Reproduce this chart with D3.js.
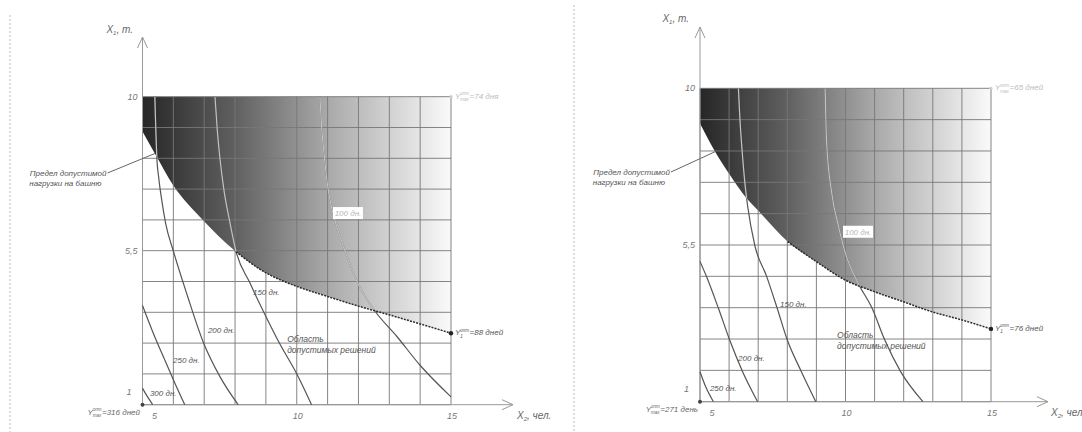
<!DOCTYPE html>
<html>
<head>
<meta charset="utf-8">
<script src="https://cdn.jsdelivr.net/npm/d3@7"></script>
<style>
    body { margin: 0; background: #fff; }
    svg { display: block; font-family: "Liberation Sans", Arial, sans-serif; font-style: italic; }
</style>
</head>
<body>
<div id="chart"></div>
<script>
// tick values / labels
var xTicks = [5, 10, 15];
var yTicks = [1, 5.5, 10];
var yTickLabels = ["1", "5,5", "10"];
var isoNames = ["300 дн.", "250 дн.", "200 дн.", "150 дн.", "100 дн."];

// left panel: load limit (X2, X1) and day isolines
var leftLimit = [[5, 8.98], [5.4, 8.34], [5.99, 7.42], [6.91, 6.44], [8.03, 5.47], [8.91, 4.9],
    [9.99, 4.46], [10.97, 4.17], [12, 3.88], [13.02, 3.62], [14, 3.36], [15, 3.09]];
var left300 = [[5, 1.48], [5.15, 1.25], [5.33, 1]];
var left250 = [[5, 3.9], [5.35, 3.09], [5.72, 2.31], [6.05, 1.63], [6.37, 1]];
var left200 = [[5.4, 10], [5.43, 9.07], [5.46, 8.3], [5.53, 7.6], [5.62, 7], [5.75, 6.3], [6, 5.49],
    [6.45, 4.2], [6.99, 2.78], [7.51, 1.82], [8.1, 1]];
var left150 = [[7.35, 10], [7.42, 9.07], [7.51, 8.2], [7.64, 7.27], [7.83, 6.34], [8.02, 5.52],
    [8.48, 4.56], [9, 3.58], [9.45, 2.78], [9.99, 1.92], [10.48, 1]];
var left100 = [[10.75, 10], [10.81, 9.07], [10.9, 8.2], [11, 7.4], [11.12, 6.8], [11.3, 6.2],
    [11.51, 5.63], [12, 4.51], [12.54, 3.73], [13.24, 3], [13.99, 2.16], [15, 1.23]];
var leftValues = ["74 дня", "88 дней", "316 дней"];

// right panel
var rightLimit = [[5, 8.99], [5.52, 8.18], [6.03, 7.51], [6.6, 6.84], [7.03, 6.46], [8.01, 5.6],
    [9, 5.02], [10, 4.49], [10.99, 4.16], [11.99, 3.87], [12.98, 3.58], [13.99, 3.35], [15, 3.09]];
var right250 = [[5, 1.86], [5.2, 1.42], [5.46, 1]];
var right200 = [[5, 5.03], [5.22, 4.6], [5.63, 3.69], [6.02, 2.77], [6.46, 1.87], [6.98, 1]];
var right150 = [[6.32, 10], [6.37, 9.14], [6.45, 8.18], [6.55, 7.22], [6.64, 6.6], [6.88, 5.5],
    [7.29, 4.6], [7.65, 3.69], [8, 2.77], [8.48, 1.87], [8.98, 1]];
var right100 = [[9.3, 10], [9.35, 8.47], [9.52, 7.03], [9.75, 6.07], [10.02, 5.2], [10.43, 4.41],
    [10.91, 3.69], [11.35, 2.77], [11.89, 1.87], [12.66, 1]];
var rightValues = ["65 дней", "76 дней", "271 день"];

var width = 1082;
var height = 432;

var svg = d3.select("#chart")
    .append("svg")
    .attr("width", width)
    .attr("height", height);

var defs = svg.append("defs");

// panel separators
svg.append("line")
    .attr("x1", 10).attr("x2", 10).attr("y1", 15).attr("y2", height)
    .attr("stroke", "#bbb").attr("stroke-dasharray", "2,2");
svg.append("line")
    .attr("x1", 574).attr("x2", 574).attr("y1", 5).attr("y2", height)
    .attr("stroke", "#bbb").attr("stroke-dasharray", "2,2");

drawPanel({
    id: "l",
    xRange: [142.5, 451], yRange: [404.7, 96.7],
    arrowTop: 37, arrowRight: 513,
    limit: leftLimit,
    curves: [left300, left250, left200, left150, left100],
    names: isoNames,
    labelPos: [[5.24, 1.25], [5.99, 2.22], [7.12, 3.1], [8.58, 4.21], [11.66, 6.6]],
    areaPos: [9.69, 2.83],
    values: leftValues,
    limitText: [-36, 176],
    limitPoint: [5.4, 8.34],
    yTitle: [133, 33],
    xTitle: 517
});

drawPanel({
    id: "r",
    xRange: [700, 991], yRange: [401.7, 88.3],
    arrowTop: 27, arrowRight: 1048,
    limit: rightLimit,
    curves: [right250, right200, right150, right100],
    names: isoNames.slice(1),
    labelPos: [[5.34, 1.31], [6.31, 2.17], [7.75, 3.72], [10.43, 5.88]],
    areaPos: [9.71, 2.83],
    values: rightValues,
    limitText: [-30, 175],
    limitPoint: [5.52, 8.18],
    yTitle: [689, 22],
    xTitle: 1051
});

function drawPanel(cfg) {
    var xs = d3.scaleLinear().domain([5, 15]).range(cfg.xRange);
    var ys = d3.scaleLinear().domain([1, 10]).range(cfg.yRange);
    var g = svg.append("g");

    var grad = defs.append("linearGradient")
        .attr("id", "shade-" + cfg.id)
        .attr("gradientUnits", "userSpaceOnUse")
        .attr("x1", xs(5)).attr("x2", xs(15))
        .attr("y1", 0).attr("y2", 0);
    grad.append("stop").attr("offset", 0).attr("stop-color", "#262626");
    grad.append("stop").attr("offset", 0.3).attr("stop-color", "#606060");
    grad.append("stop").attr("offset", 0.6).attr("stop-color", "#a9a9a9");
    grad.append("stop").attr("offset", 1).attr("stop-color", "#fafafa");

    var area = d3.area()
        .x(function(d) { return xs(d[0]); })
        .y0(ys(10))
        .y1(function(d) { return ys(d[1]); })
        .curve(d3.curveMonotoneX);

    var line = d3.line()
        .x(function(d) { return xs(d[0]); })
        .y(function(d) { return ys(d[1]); })
        .curve(d3.curveMonotoneX);

    defs.append("clipPath")
        .attr("id", "clip-" + cfg.id)
        .append("path")
        .attr("d", area(cfg.limit));

    g.append("path")
        .attr("d", area(cfg.limit))
        .attr("fill", "url(#shade-" + cfg.id + ")");

    // grid
    var gx = d3.range(5, 15.01, 1);
    var gy = d3.range(0, 11).map(function(i) { return 1 + i * 0.9; });
    g.selectAll(".gx")
        .data(gx)
        .enter().append("line")
        .attr("x1", function(d) { return xs(d); })
        .attr("x2", function(d) { return xs(d); })
        .attr("y1", ys(1)).attr("y2", ys(10))
        .attr("stroke", "#777").attr("stroke-width", 0.9);
    g.selectAll(".gy")
        .data(gy)
        .enter().append("line")
        .attr("y1", function(d) { return ys(d); })
        .attr("y2", function(d) { return ys(d); })
        .attr("x1", xs(5)).attr("x2", xs(15))
        .attr("stroke", "#777").attr("stroke-width", 0.9);

    // axes with open arrows
    g.append("line")
        .attr("x1", xs(5)).attr("x2", xs(5))
        .attr("y1", ys(1)).attr("y2", cfg.arrowTop)
        .attr("stroke", "#999");
    g.append("path")
        .attr("d", "M" + (xs(5) - 5) + "," + (cfg.arrowTop + 11) + "L" + xs(5) + "," + cfg.arrowTop +
            "L" + (xs(5) + 5) + "," + (cfg.arrowTop + 11))
        .attr("fill", "none").attr("stroke", "#999");
    g.append("line")
        .attr("x1", xs(5)).attr("x2", cfg.arrowRight)
        .attr("y1", ys(1)).attr("y2", ys(1))
        .attr("stroke", "#999");
    g.append("path")
        .attr("d", "M" + (cfg.arrowRight - 11) + "," + (ys(1) - 5) + "L" + cfg.arrowRight + "," + ys(1) +
            "L" + (cfg.arrowRight - 11) + "," + (ys(1) + 5))
        .attr("fill", "none").attr("stroke", "#999");

    // isolines: dark outside, light inside the shaded zone
    g.selectAll(".iso")
        .data(cfg.curves)
        .enter().append("path")
        .attr("d", line)
        .attr("fill", "none")
        .attr("stroke", "#555")
        .attr("stroke-width", 1.2);
    g.append("g")
        .attr("clip-path", "url(#clip-" + cfg.id + ")")
        .selectAll("path")
        .data(cfg.curves)
        .enter().append("path")
        .attr("d", line)
        .attr("fill", "none")
        .attr("stroke", "#d6d6d6")
        .attr("stroke-opacity", 0.85)
        .attr("stroke-width", 1.2);

    // dotted part of the limit
    g.append("path")
        .attr("d", line(cfg.limit.filter(function(d) { return d[0] >= 8; })))
        .attr("fill", "none")
        .attr("stroke", "#2a2a2a")
        .attr("stroke-width", 1.5)
        .attr("stroke-dasharray", "2,1.2");

    // points
    g.append("circle").attr("cx", xs(5)).attr("cy", ys(1)).attr("r", 2).attr("fill", "#444");
    g.append("circle").attr("cx", xs(15)).attr("cy", ys(cfg.limit[cfg.limit.length - 1][1]))
        .attr("r", 2.2).attr("fill", "#222");
    g.append("circle").attr("cx", xs(15)).attr("cy", ys(10)).attr("r", 1.6).attr("fill", "#ccc");

    // tick labels
    g.selectAll(".xt")
        .data(xTicks)
        .enter().append("text")
        .attr("x", function(d) { return xs(d) + (d === 5 ? 12 : 1); })
        .attr("y", ys(1) + 14)
        .attr("text-anchor", "middle")
        .attr("font-size", "9px")
        .attr("fill", "#777")
        .text(function(d) { return d; });
    g.selectAll(".yt")
        .data(yTicks)
        .enter().append("text")
        .attr("x", function(d) { return xs(5) - (d === 1 ? 11 : 5); })
        .attr("y", function(d) { return ys(d) + (d === 1 ? -10 : 3); })
        .attr("text-anchor", "end")
        .attr("font-size", "9px")
        .attr("fill", "#777")
        .text(function(d, i) { return yTickLabels[i]; });

    // axis titles
    var yt = g.append("text")
        .attr("x", cfg.yTitle[0]).attr("y", cfg.yTitle[1])
        .attr("text-anchor", "end")
        .attr("font-size", "10px")
        .attr("fill", "#666");
    yt.append("tspan").text("X");
    yt.append("tspan").attr("font-size", "6px").attr("dy", 2).text("1");
    yt.append("tspan").attr("dy", -2).text(", т.");

    var xt = g.append("text")
        .attr("x", cfg.xTitle).attr("y", ys(1) + 14)
        .attr("font-size", "10px")
        .attr("fill", "#666");
    xt.append("tspan").text("X");
    xt.append("tspan").attr("font-size", "6px").attr("dy", 2).text("2");
    xt.append("tspan").attr("dy", -2).text(", чел.");

    // isoline labels
    g.selectAll(".isolab")
        .data(cfg.names.slice(0, -1))
        .enter().append("text")
        .attr("x", function(d, i) { return xs(cfg.labelPos[i][0]); })
        .attr("y", function(d, i) { return ys(cfg.labelPos[i][1]); })
        .attr("font-size", "8px")
        .attr("fill", "#555")
        .text(function(d) { return d; });

    var last = cfg.labelPos[cfg.labelPos.length - 1];
    g.append("rect")
        .attr("x", xs(last[0]) - 15).attr("y", ys(last[1]) - 6)
        .attr("width", 30).attr("height", 12)
        .attr("fill", "#fff");
    g.append("text")
        .attr("x", xs(last[0])).attr("y", ys(last[1]) + 3)
        .attr("text-anchor", "middle")
        .attr("font-size", "8px")
        .attr("fill", "#b5b5b5")
        .text(cfg.names[cfg.names.length - 1]);

    // feasible region caption
    g.append("text")
        .attr("x", xs(cfg.areaPos[0])).attr("y", ys(cfg.areaPos[1]))
        .attr("font-size", "8.5px")
        .attr("fill", "#555")
        .selectAll("tspan")
        .data(["Область", "допустимых решений"])
        .enter().append("tspan")
        .attr("x", xs(cfg.areaPos[0]))
        .attr("dy", function(d, i) { return i ? 11 : 0; })
        .text(function(d) { return d; });

    // load limit caption with leader
    var tx = xs(5) + cfg.limitText[0];
    g.append("path")
        .attr("d", "M" + (tx + 1) + "," + (cfg.limitText[1] - 3) + "L" + xs(cfg.limitPoint[0]) + "," + ys(cfg.limitPoint[1]))
        .attr("stroke", "#666").attr("fill", "none");
    g.append("text")
        .attr("x", tx).attr("y", cfg.limitText[1])
        .attr("text-anchor", "end")
        .attr("font-size", "8px")
        .attr("fill", "#555")
        .selectAll("tspan")
        .data(["Предел допустимой", "нагрузки на башню"])
        .enter().append("tspan")
        .attr("x", function(d, i) { return tx - i * 5; })
        .attr("dy", function(d, i) { return i ? 10 : 0; })
        .text(function(d) { return d; });

    // Y values
    yLabel(g, xs(15) + 4, ys(10) + 2, "опт", "max", cfg.values[0], false, "#bbb");
    yLabel(g, xs(15) + 4, ys(cfg.limit[cfg.limit.length - 1][1]) + 2, "опт", "1", cfg.values[1], false, "#555");
    yLabel(g, xs(5) - 2, ys(1) + 10, "опт", "max", cfg.values[2], true, "#666");
}

// Y with stacked super/subscript, then "=value"
function yLabel(g, x, y, sup, sub, value, alignEnd, color) {
    var t = g.append("text")
        .attr("x", x).attr("y", y)
        .attr("font-size", "8px")
        .attr("fill", color);
    t.append("tspan").text("Y");
    var s1 = t.append("tspan").attr("font-size", "4.5px").attr("dy", -3.5).text(sup);
    var w1 = s1.node().getComputedTextLength();
    var s2 = t.append("tspan").attr("font-size", "4.5px").attr("dy", 6).attr("dx", -w1).text(sub);
    var w2 = s2.node().getComputedTextLength();
    t.append("tspan").attr("dy", -2.5).attr("dx", Math.max(0, w1 - w2) + 0.5).text("=" + value);
    if (alignEnd) {
        var bb = t.node().getBBox();
        t.attr("x", x - bb.width);
    }
}
</script>
</body>
</html>
